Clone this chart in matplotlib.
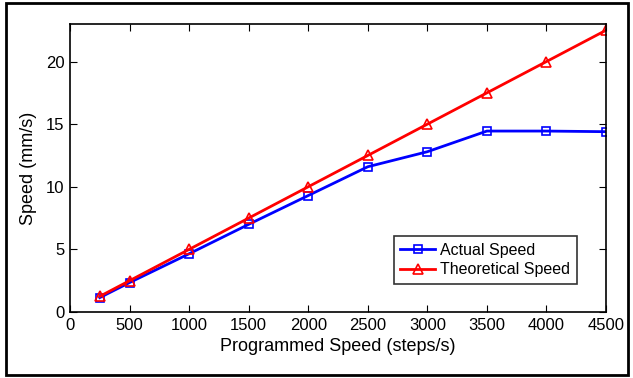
import matplotlib
matplotlib.use("Agg")
import matplotlib.pyplot as plt
from matplotlib.patches import Rectangle

plt.rcParams['font.family'] = ['Liberation Sans', 'DejaVu Sans']

# Data
steps = [250, 500, 1000, 1500, 2000, 2500, 3000, 3500, 4000, 4500]
actual = [1.15, 2.35, 4.65, 7.0, 9.3, 11.6, 12.8, 14.45, 14.45, 14.4]
theoretical = [1.25, 2.5, 5.0, 7.5, 10.0, 12.5, 15.0, 17.5, 20.0, 22.5]
xticks = [0, 500, 1000, 1500, 2000, 2500, 3000, 3500, 4000, 4500]
yticks = [0, 5, 10, 15, 20]

fig = plt.figure(figsize=(6.33, 3.78), dpi=100)
ax = fig.add_axes([70 / 633, 1 - 312 / 378, (606 - 70) / 633, (312 - 24) / 378])

ax.plot(steps, actual, color='#0000ff', lw=2, marker='s', ms=6, mfc='none',
        mew=1.2, label='Actual Speed')
ax.plot(steps, theoretical, color='#ff0000', lw=2, marker='^', ms=7, mfc='none',
        mew=1.2, label='Theoretical Speed')

ax.set_xlim(0, 4500)
ax.set_ylim(0, 23)
ax.set_xticks(xticks)
ax.set_yticks(yticks)
ax.tick_params(direction='in', top=True, right=True, labelsize=12, length=5, pad=4)
for sp in ax.spines.values():
    sp.set_linewidth(1.2)

ax.set_xlabel('Programmed Speed (steps/s)', fontsize=13, labelpad=4)
ax.set_ylabel('Speed (mm/s)', fontsize=13, labelpad=6)

leg = ax.legend(loc='lower right', bbox_to_anchor=(0.96, 0.07), fontsize=11.5,
                frameon=True, fancybox=False, edgecolor='black',
                handlelength=2.2, borderpad=0.4, labelspacing=0.3, handletextpad=0.3)
leg.get_frame().set_linewidth(1.2)

fig.patches.append(Rectangle((6 / 633, 3 / 378), 622 / 633, 372 / 378,
                             transform=fig.transFigure, fill=False,
                             edgecolor='black', linewidth=2))

fig.savefig('out.png', dpi=100)
